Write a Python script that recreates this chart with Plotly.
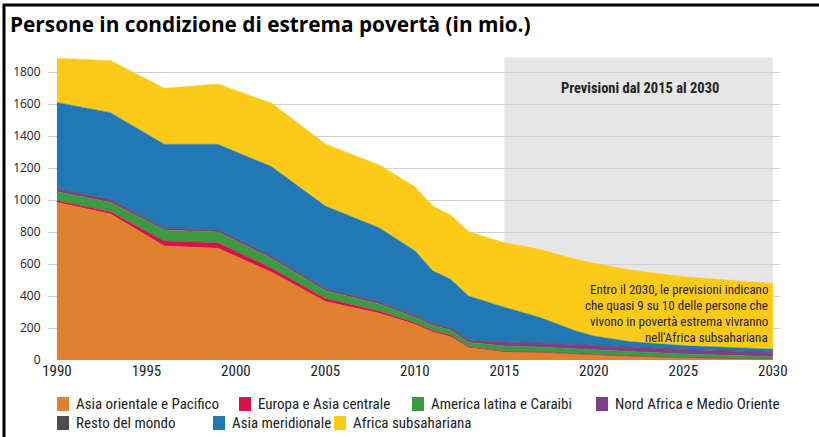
import plotly.graph_objects as go

years = [1990, 1993, 1996, 1999, 2002, 2005, 2008, 2010, 2011, 2012, 2013,
         2015, 2017, 2018, 2019, 2020, 2022, 2025, 2030]

asia_orientale = [985, 912, 712, 698, 548, 365, 292, 223, 173, 146, 77,
                  50, 45, 40, 35, 30, 22, 12, 4]
europa_asia_centrale = [12, 15, 32, 35, 25, 20, 14, 10, 10, 10, 6,
                        4, 4, 4, 3, 3, 3, 2, 1]
america_latina = [55, 58, 68, 67, 62, 48, 44, 34, 32, 32, 27,
                  33, 32, 31, 31, 30, 28, 24, 16]
nord_africa = [17, 18, 12, 12, 12, 12, 12, 11, 11, 10, 15,
               25, 25, 26, 27, 28, 28, 28, 26]
resto_mondo = [3, 3, 3, 3, 3, 3, 3, 3, 3, 3, 3,
               4, 4, 4, 4, 4, 4, 4, 4]
asia_meridionale = [538, 540, 521, 533, 558, 514, 462, 402, 329, 303, 272,
                    214, 155, 117, 82, 55, 30, 20, 17]
africa_subsahariana = [276, 325, 350, 377, 396, 388, 392, 400, 404, 402, 402,
                       403, 425, 436, 448, 454, 448, 431, 411]

series_names = ["Asia orientale e Pacifico", "Europa e Asia centrale",
                "America latina e Caraibi", "Nord Africa e Medio Oriente",
                "Resto del mondo", "Asia meridionale", "Africa subsahariana"]
series_values = [asia_orientale, europa_asia_centrale, america_latina,
                 nord_africa, resto_mondo, asia_meridionale, africa_subsahariana]
colors = ["#E0812F", "#D5124B", "#3C9A40", "#7D3F8A", "#4D4D4D", "#2178B5", "#FDCA17"]

y_ticks = [0, 200, 400, 600, 800, 1000, 1200, 1400, 1600, 1800]
x_ticks = [1990, 1995, 2000, 2005, 2010, 2015, 2020, 2025, 2030]

note_lines = ["Entro il 2030, le previsioni indicano",
              "che quasi 9 su 10 delle persone che",
              "vivono in povertà estrema vivranno",
              "nell'Africa subsahariana"]

cond = "Liberation Sans Narrow, Roboto Condensed, Arial Narrow, sans-serif"

W, H = 819, 437
ML, MR, MT, MB = 48, 39, 56, 77
PW, PH = W - ML - MR, H - MT - MB


def px(xp):
    return (xp - ML) / PW


def py(yp):
    return (H - MB - yp) / PH


fig = go.Figure()
for name, vals, col in zip(series_names, series_values, colors):
    fig.add_trace(go.Scatter(
        x=years, y=vals, name=name, mode="lines", stackgroup="one",
        line=dict(width=0.5, color=col), fillcolor=col, showlegend=False,
        hoverinfo="x+y+name"))

fig.add_shape(type="rect", xref="x", yref="y", x0=2015, x1=2030, y0=0, y1=1890,
              fillcolor="#E6E6E6", line=dict(width=0), layer="below")

# frame lines
fig.add_shape(type="line", xref="paper", yref="paper", x0=px(3), x1=px(819), y0=py(5), y1=py(5),
              line=dict(color="black", width=3))
fig.add_shape(type="line", xref="paper", yref="paper", x0=px(4), x1=px(4), y0=py(4), y1=py(437),
              line=dict(color="black", width=3))

fig.add_annotation(text="<b>Previsioni dal 2015 al 2030</b>", xref="x", yref="y",
                   x=2022.6, y=1700, showarrow=False,
                   font=dict(family=cond, size=14.5, color="#222"))
for i, line in enumerate(note_lines):
    fig.add_annotation(text=line, xref="paper", yref="paper",
                       x=px(770), y=py(289 + 16 * i), xanchor="right", yanchor="middle",
                       showarrow=False, font=dict(family=cond, size=13, color="#222"))

# manual legend
legend_pos = [(57, 404), (239, 404), (412, 404), (596, 404),
              (57, 423), (213, 423), (334, 423)]
for name, col, (lx, ly) in zip(series_names, colors, legend_pos):
    fig.add_shape(type="rect", xref="paper", yref="paper",
                  x0=px(lx), x1=px(lx + 12), y0=py(ly - 7), y1=py(ly + 7),
                  fillcolor=col, line=dict(width=0))
    fig.add_annotation(text=name, xref="paper", yref="paper",
                       x=px(lx + 17), y=py(ly), xanchor="left", yanchor="middle",
                       showarrow=False, font=dict(family=cond, size=15, color="#222"))

fig.update_layout(
    width=W, height=H,
    margin=dict(l=ML, r=MR, t=MT, b=MB),
    paper_bgcolor="white", plot_bgcolor="white",
    title=dict(text="<b>Persone in condizione di estrema povertà (in mio.)</b>",
               x=10 / W, xanchor="left", y=1 - 25 / H, yanchor="middle",
               font=dict(family="Open Sans, sans-serif", size=20.8, color="black")),
    xaxis=dict(range=[1989.5, 2030.4], tickvals=x_ticks, showgrid=False, zeroline=False,
               ticks="", tickfont=dict(family=cond, size=15, color="#222"),
               showline=False),
    yaxis=dict(range=[0, 1900], tickvals=y_ticks, showgrid=True, gridcolor="#D0D0D0",
               gridwidth=1, zeroline=False, ticks="outside", ticklen=4, tickcolor="white",
               tickfont=dict(family="Open Sans, sans-serif", size=12, color="#222")),
    showlegend=False,
)

fig.write_html("out.html", config={"displayModeBar": False},
               post_script="document.body.style.margin='0';document.body.style.padding='0';")
